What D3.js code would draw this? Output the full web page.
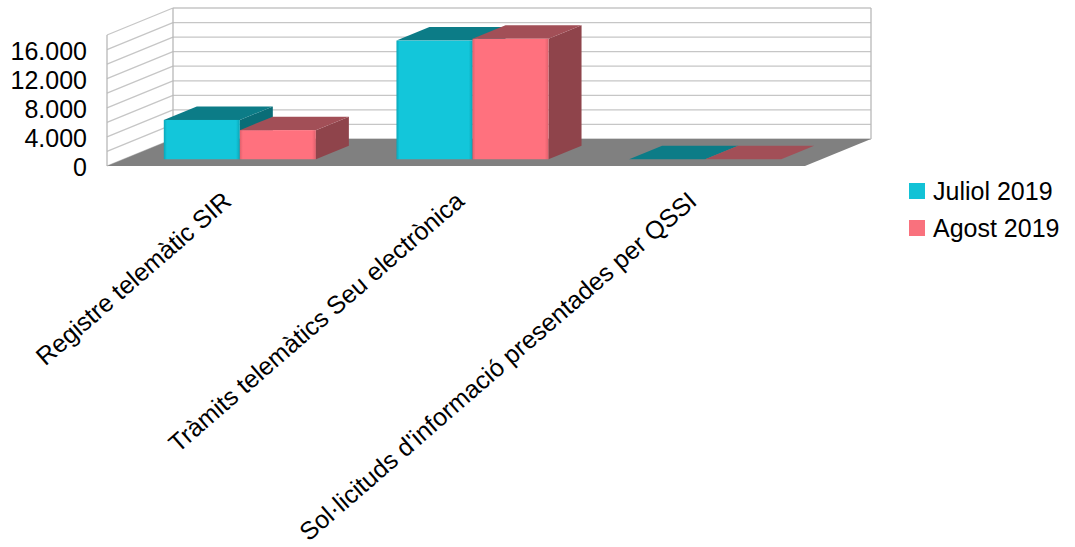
<!DOCTYPE html>
<html>
<head>
<meta charset="utf-8">
<script src="https://cdn.jsdelivr.net/npm/d3@7"></script>
<style>
html, body { margin: 0; padding: 0; background: #ffffff; }
text { font-family: "Liberation Sans", Arial, sans-serif; fill: #000; }
</style>
</head>
<body>
<svg id="chart" width="1075" height="547"></svg>
<script>
// ---- data ----
const categories = ["Registre telemàtic SIR", "Tràmits telemàtics Seu electrònica", "Sol·licituds d'informació presentades per QSSI"];
const seriesNames = ["Juliol 2019", "Agost 2019"];
const juliol = [5400, 16300, 0];
const agost = [4000, 16550, 0];
const yTickValues = [0, 4000, 8000, 12000, 16000];
const yMax = 18000;

// ---- styles ----
const palette = {
  "Juliol 2019": { front: "#13C6DA", top: "#0C7C87", side: "#0A6D77", edge: "#0AA6B8", legend: "#12C2D6" },
  "Agost 2019":  { front: "#FF717E", top: "#A24F57", side: "#8F444B", edge: "#E0606C", legend: "#F9717D" }
};

const svg = d3.select("#chart");
const X0 = 107, X1 = 805, YB = 166, YT = 35;
const DX = 66, DY = -27;

const y = d3.scaleLinear().domain([0, yMax]).range([YB, YT]);
const xBand = d3.scaleBand().domain(categories).range([X0, X1]);
const xSeries = d3.scaleBand().domain(seriesNames).range([0, xBand.bandwidth()]).paddingOuter(0.53).paddingInner(0);

const proj = (x, v, d) => [x + DX * d, y(v) + DY * d];
const poly = pts => pts.map(p => p.join(",")).join(" ");

const fmt = d3.formatLocale({ decimal: ",", thousands: ".", grouping: [3], currency: ["", "€"] }).format(",d");
const gridVals = y.ticks(9);

// ---- walls ----
const gLines = "#c6c6c6";
svg.append("rect").attr("x", X0 + DX).attr("y", YT + DY).attr("width", X1 - X0).attr("height", YB - YT).attr("fill", "#fff");
svg.append("g").selectAll("line").data(gridVals).join("line")
  .attr("x1", X0 + DX).attr("x2", X1 + DX)
  .attr("y1", d => y(d) + DY).attr("y2", d => y(d) + DY)
  .attr("stroke", gLines).attr("stroke-width", 1.3);
svg.append("g").selectAll("line").data(gridVals).join("line")
  .attr("x1", X0).attr("x2", X0 + DX)
  .attr("y1", d => y(d)).attr("y2", d => y(d) + DY)
  .attr("stroke", gLines).attr("stroke-width", 1.3);
svg.append("line").attr("x1", X0).attr("x2", X0).attr("y1", y(0)).attr("y2", y(yMax)).attr("stroke", "#b8b8b8").attr("stroke-width", 1.3);
svg.append("line").attr("x1", X0 + DX).attr("x2", X0 + DX).attr("y1", y(0) + DY).attr("y2", y(yMax) + DY).attr("stroke", "#b8b8b8").attr("stroke-width", 1.3);
svg.append("line").attr("x1", X1 + DX).attr("x2", X1 + DX).attr("y1", y(0) + DY).attr("y2", y(yMax) + DY).attr("stroke", "#b8b8b8").attr("stroke-width", 1.3);

// floor
svg.append("polygon")
  .attr("points", poly([proj(X0, 0, 0), proj(X0, 0, 1), proj(X1, 0, 1), proj(X1, 0, 0)]))
  .attr("fill", "#808080");

// ---- bars ----
const defs = svg.append("defs");
seriesNames.forEach((s, i) => {
  const gr = defs.append("linearGradient").attr("id", "gf" + i).attr("x1", "0").attr("x2", "1").attr("y1", "0").attr("y2", "0");
  gr.append("stop").attr("offset", "0").attr("stop-color", palette[s].edge);
  gr.append("stop").attr("offset", "0.04").attr("stop-color", palette[s].front);
  gr.append("stop").attr("offset", "0.95").attr("stop-color", palette[s].front);
  gr.append("stop").attr("offset", "1").attr("stop-color", palette[s].edge);
});

const D0 = 0.25, D1 = 0.75;
const bars = [];
categories.forEach((c, ci) => {
  bars.push({ c, s: seriesNames[0], v: juliol[ci], si: 0 });
  bars.push({ c, s: seriesNames[1], v: agost[ci], si: 1 });
});
const gb = svg.append("g");
bars.forEach(b => {
  const xl = xBand(b.c) + xSeries(b.s);
  const w = xSeries.bandwidth();
  const col = palette[b.s];
  const g = gb.append("g");
  if (b.v > 0) {
    g.append("polygon").attr("points", poly([proj(xl + w, 0, D0), proj(xl + w, 0, D1), proj(xl + w, b.v, D1), proj(xl + w, b.v, D0)]))
      .attr("fill", col.side);
  }
  g.append("polygon").attr("points", poly([proj(xl, b.v, D0), proj(xl + w, b.v, D0), proj(xl + w, b.v, D1), proj(xl, b.v, D1)]))
    .attr("fill", col.top);
  if (b.v > 0) {
    const p0 = proj(xl, b.v, D0), p1 = proj(xl + w, 0, D0);
    g.append("rect").attr("x", p0[0]).attr("y", p0[1]).attr("width", p1[0] - p0[0]).attr("height", p1[1] - p0[1])
      .attr("fill", "url(#gf" + b.si + ")");
  }
});

// ---- y axis labels ----
svg.append("g").selectAll("text").data(yTickValues).join("text")
  .attr("x", 87).attr("y", d => y(d) + 1)
  .attr("text-anchor", "end").attr("dominant-baseline", "central")
  .attr("font-size", 25)
  .text(d => fmt(d));

// ---- x labels ----
svg.append("g").selectAll("text").data(categories).join("text")
  .attr("transform", d => `translate(${xBand(d) + xBand.bandwidth() / 2 - 2},190) rotate(-41)`)
  .attr("text-anchor", "end").attr("dy", "0.71em")
  .attr("font-size", 25)
  .text(d => d);

// ---- legend ----
const lg = svg.append("g").selectAll("g").data(seriesNames).join("g")
  .attr("transform", (d, i) => `translate(909,${183 + i * 37})`);
lg.append("rect").attr("width", 16).attr("height", 16).attr("fill", d => palette[d].legend);
lg.append("text").attr("x", 24).attr("y", 8).attr("dominant-baseline", "central").attr("font-size", 25).text(d => d);
</script>
</body>
</html>
